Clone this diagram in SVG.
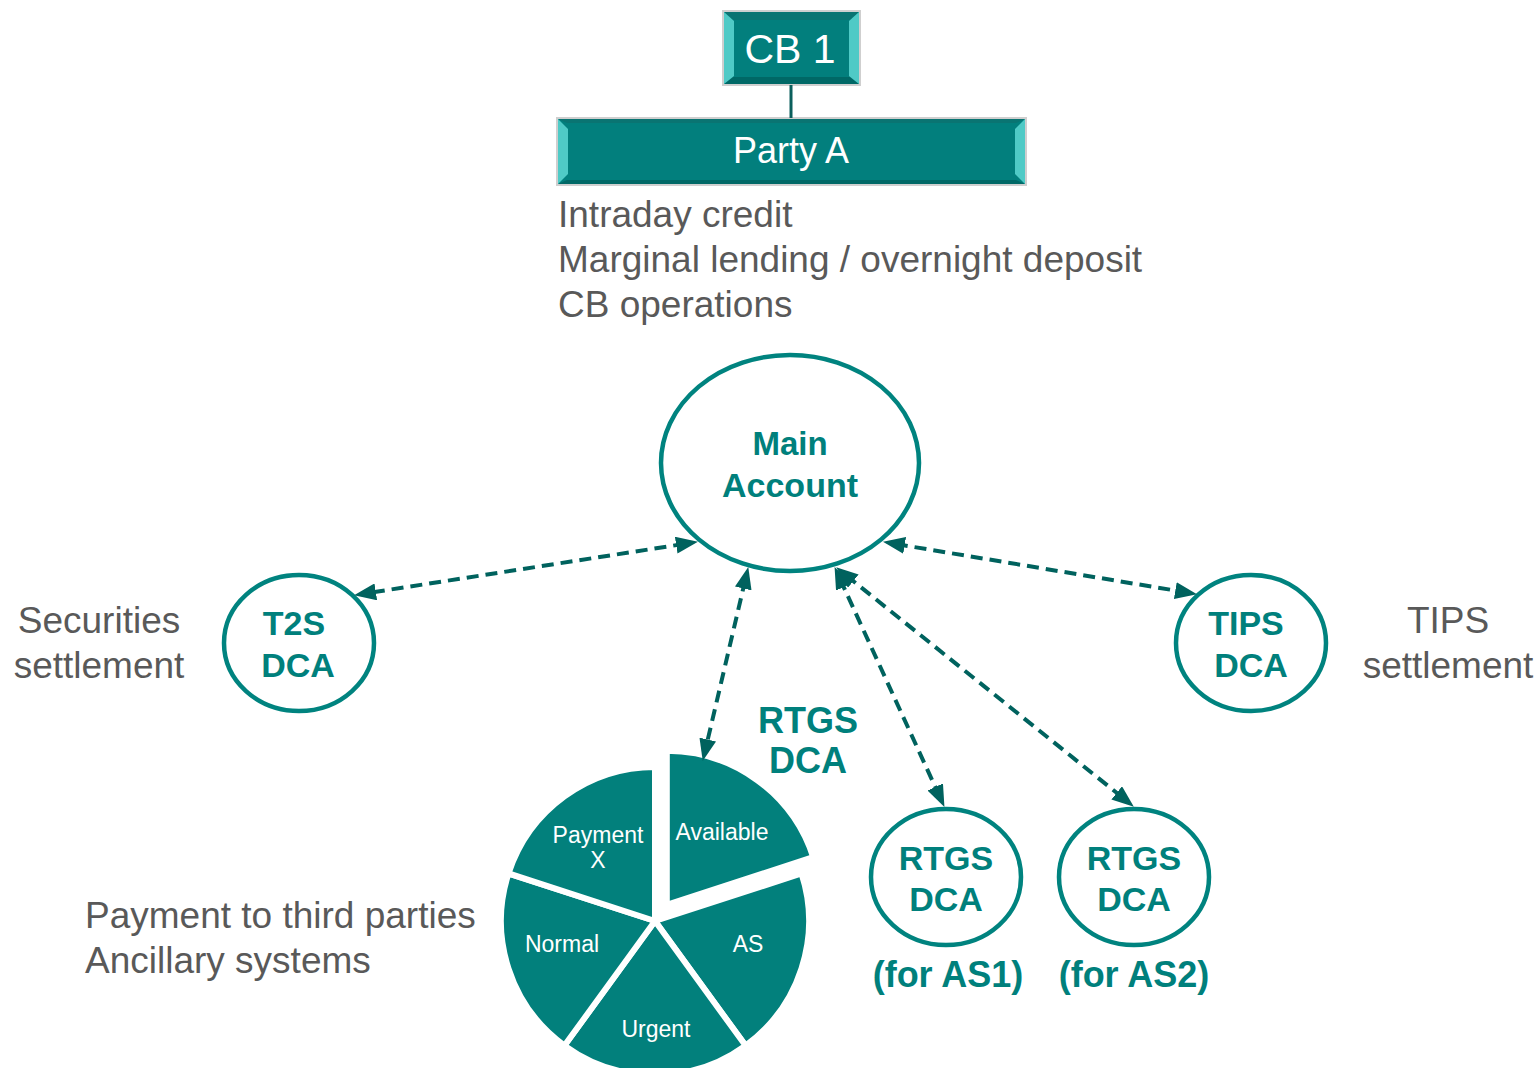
<svg xmlns="http://www.w3.org/2000/svg" width="1537" height="1068" viewBox="0 0 1537 1068">
<style>
text{font-family:"Liberation Sans",Arial,sans-serif}
.gray{fill:#595959;font-size:37px}
.tl{fill:#00807c;font-weight:bold;text-anchor:middle}
.acc{fill:none;stroke:#00837f;stroke-width:4.5}
.conn{fill:none;stroke:#00625e;stroke-width:4;stroke-dasharray:12 7}
.pie{fill:#02807c;stroke:#ffffff;stroke-width:6;stroke-linejoin:round}
.pt{fill:#ffffff;font-size:23px;text-anchor:middle}
.box{fill:#027f7d;stroke:#cfcfcf;stroke-width:2}
.bl{fill:#4fcac6}
.bt{fill:#0a7472}
.bb{fill:#006866}
</style>
<defs>
<marker id="ah" viewBox="0 0 22 17" refX="9" refY="8.5" markerWidth="22" markerHeight="17" markerUnits="userSpaceOnUse" orient="auto-start-reverse">
<path d="M0,0 L22,8.5 L0,17 Z" fill="#00625e"/>
</marker>
</defs>

<g id="cb1">
<rect class="box" x="723" y="11" width="137" height="74"/>
<polygon class="bt" points="724,12 859,12 850,20 733,20"/>
<polygon class="bb" points="724,84 859,84 850,77 733,77"/>
<polygon class="bl" points="724,12 734,21 734,76 724,84"/>
<polygon class="bl" points="859,12 849,21 849,76 859,84"/>
<text x="790" y="63" fill="#ffffff" font-size="41" text-anchor="middle">CB 1</text>
</g>

<g id="partyA">
<rect class="box" x="557" y="118" width="469" height="67"/>
<polygon class="bt" points="558,119 1025,119 1016,123 567,123"/>
<polygon class="bb" points="558,184 1025,184 1016,180 567,180"/>
<polygon class="bl" points="558,119 568,129 568,174 558,184"/>
<polygon class="bl" points="1025,119 1015,129 1015,174 1025,184"/>
<text x="791" y="163" fill="#ffffff" font-size="36" text-anchor="middle">Party A</text>
</g>

<g id="partyA-services">
<text class="gray" x="558" y="227">Intraday credit</text>
<text class="gray" x="558" y="272">Marginal lending / overnight deposit</text>
<text class="gray" x="558" y="317">CB operations</text>
</g>

<g id="main-account">
<ellipse class="acc" cx="790" cy="463" rx="129" ry="108"/>
<text class="tl" x="790" y="455" font-size="33">Main</text>
<text class="tl" x="790" y="497" font-size="34">Account</text>
</g>

<g id="t2s-dca">
<ellipse class="acc" cx="299" cy="643" rx="75" ry="68"/>
<text class="tl" x="294" y="635" font-size="34">T2S</text>
<text class="tl" x="298" y="677" font-size="34">DCA</text>
</g>
<g id="securities-label">
<text class="gray" x="99" y="633" text-anchor="middle">Securities</text>
<text class="gray" x="99" y="678" text-anchor="middle">settlement</text>
</g>

<g id="tips-dca">
<ellipse class="acc" cx="1251" cy="643" rx="75" ry="68"/>
<text class="tl" x="1246" y="635" font-size="34">TIPS</text>
<text class="tl" x="1251" y="677" font-size="34">DCA</text>
</g>
<g id="tips-label">
<text class="gray" x="1448" y="633" text-anchor="middle">TIPS</text>
<text class="gray" x="1448" y="678" text-anchor="middle">settlement</text>
</g>

<g id="rtgs-dca-as1">
<ellipse class="acc" cx="946" cy="877" rx="75" ry="68"/>
<text class="tl" x="946" y="870" font-size="34">RTGS</text>
<text class="tl" x="946" y="911" font-size="34">DCA</text>
<text class="tl" x="948" y="987" font-size="36">(for AS1)</text>
</g>

<g id="rtgs-dca-as2">
<ellipse class="acc" cx="1134" cy="877" rx="75" ry="68"/>
<text class="tl" x="1134" y="870" font-size="34">RTGS</text>
<text class="tl" x="1134" y="911" font-size="34">DCA</text>
<text class="tl" x="1134" y="987" font-size="36">(for AS2)</text>
</g>

<g id="rtgs-dca-pie">
<path class="pie" d="M666.8,904.8 L666.8,750.8 A154,154 0 0 1 813.26,857.21 Z"/>
<path class="pie" d="M655,921 L801.46,873.41 A154,154 0 0 1 745.52,1045.59 Z"/>
<path class="pie" d="M655,921 L745.52,1045.59 A154,154 0 0 1 564.48,1045.59 Z"/>
<path class="pie" d="M655,921 L564.48,1045.59 A154,154 0 0 1 508.54,873.41 Z"/>
<path class="pie" d="M655,921 L508.54,873.41 A154,154 0 0 1 655,767 Z"/>
<text class="pt" x="598" y="843">Payment</text>
<text class="pt" x="598" y="868">X</text>
<text class="pt" x="722" y="840">Available</text>
<text class="pt" x="562" y="952">Normal</text>
<text class="pt" x="748" y="952">AS</text>
<text class="pt" x="656" y="1037">Urgent</text>
<text class="tl" x="808" y="733" font-size="36">RTGS</text>
<text class="tl" x="808" y="773" font-size="36">DCA</text>
</g>
<g id="pie-label">
<text class="gray" x="85" y="928">Payment to third parties</text>
<text class="gray" x="85" y="973">Ancillary systems</text>
</g>

<g id="connectors">
<line x1="791" y1="85" x2="791" y2="118" stroke="#0b5f5c" stroke-width="3"/>
<line class="conn" x1="685.1" y1="543.8" x2="366.9" y2="593.2" marker-start="url(#ah)" marker-end="url(#ah)"/>
<line class="conn" x1="895.8" y1="544.0" x2="1184.2" y2="592.0" marker-start="url(#ah)" marker-end="url(#ah)"/>
<line class="conn" x1="745.3" y1="579.7" x2="705.7" y2="748.3" marker-start="url(#ah)" marker-end="url(#ah)"/>
<line class="conn" x1="840.0" y1="578.9" x2="939.0" y2="795.1" marker-start="url(#ah)" marker-end="url(#ah)"/>
<line class="conn" x1="846.3" y1="575.5" x2="1123.7" y2="798.5" marker-start="url(#ah)" marker-end="url(#ah)"/>
</g>
</svg>
